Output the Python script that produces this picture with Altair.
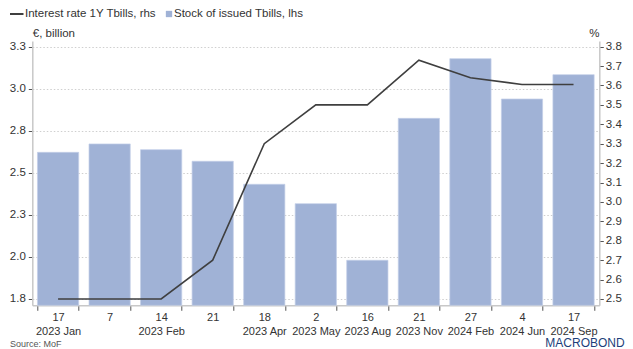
import altair as alt
import pandas as pd

categories = ["17|2023 Jan", "7|", "14|2023 Feb", "21|", "18|2023 Apr", "2|2023 May",
              "16|2023 Aug", "21|2023 Nov", "27|2024 Feb", "4|2024 Jun", "17|2024 Sep"]
stock = [2.622, 2.672, 2.638, 2.569, 2.432, 2.317, 1.980, 2.824, 3.179, 2.939, 3.084]
rate = [2.50, 2.50, 2.50, 2.70, 3.30, 3.50, 3.50, 3.73, 3.64, 3.605, 3.605]

left_ticks = [1.75, 2.0, 2.25, 2.5, 2.75, 3.0, 3.25]
right_ticks = [2.5, 2.6, 2.7, 2.8, 2.9, 3.0, 3.1, 3.2, 3.3, 3.4, 3.5, 3.6, 3.7, 3.8]
left_domain = [1.7125, 3.284]
right_domain = [2.4675, 3.829]

df = pd.DataFrame({"cat": categories, "stock": stock, "rate": rate})

FONT = "Liberation Sans"
BAR = "#a0b2d6"
LINE = "#3f3f3f"
W, H = 567, 264.3

xenc = alt.X("cat:N", sort=categories,
             scale=alt.Scale(paddingInner=0.2, paddingOuter=0.1),
             axis=alt.Axis(title=None, labelAngle=0, tickBand="extent", tickSize=5,
                           tickColor="#555555", domainColor="#c8c8c8", domainWidth=1.5,
                           labelExpr="split(datum.label, '|')", labelFont=FONT,
                           labelFontSize=11, labelColor="#333333", labelPadding=1.5,
                           labelLineHeight=14, grid=False, labelOverlap=False))

bars = alt.Chart(df).mark_bar(color=BAR, stroke="#c3cfe8", strokeWidth=0.7).encode(
    x=xenc,
    y=alt.Y("stock:Q",
            scale=alt.Scale(domain=left_domain, nice=False, zero=False),
            axis=alt.Axis(values=left_ticks, format=".1f", title="€, billion",
                          titleAngle=0, titleX=0, titleY=-5, titleAlign="left",
                          titleBaseline="alphabetic", titleFont=FONT, titleFontSize=11.5,
                          titleFontWeight="normal", titleColor="#333333",
                          labelFont=FONT, labelFontSize=11.5, labelColor="#333333",
                          tickSize=4, tickColor="#555555", domainColor="#c8c8c8",
                          domainWidth=1.5, labelPadding=3,
                          grid=True, gridDash=[1.5, 2], gridColor="#cfcfcf")),
    y2=alt.datum(left_domain[0]),
)

line = alt.Chart(df).mark_line(color=LINE, strokeWidth=1.6).encode(
    x=alt.X("cat:N", sort=categories),
    y=alt.Y("rate:Q",
            scale=alt.Scale(domain=right_domain, nice=False, zero=False),
            axis=alt.Axis(orient="right", values=right_ticks, format=".1f", title="%",
                          titleAngle=0, titleX=-5.5, titleY=-5, titleAlign="center",
                          titleBaseline="alphabetic", titleFont=FONT, titleFontSize=11.5,
                          titleFontWeight="normal", titleColor="#333333",
                          labelFont=FONT, labelFontSize=11.5, labelColor="#333333",
                          tickSize=4, tickColor="#555555", domainColor="#c8c8c8",
                          domainWidth=1.5, labelPadding=2, grid=False))
)

one = alt.Data(values=[{"a": 1}])

def txt(s, x, y, size=11.5, color="#333333", weight="normal", baseline="middle"):
    return alt.Chart(one).mark_text(text=s, font=FONT, fontSize=size, color=color,
                                    fontWeight=weight, align="left",
                                    baseline=baseline).encode(
        x=alt.value(x), y=alt.value(y))

title = txt("T-bills", -22.3, -37, size=19, color="#12358a", weight="bold",
            baseline="alphabetic")
leg_line = alt.Chart(one).mark_rule(color=LINE, strokeWidth=2).encode(
    x=alt.value(-22.3), x2=alt.value(-8.8), y=alt.value(-27))
leg_line_t = txt("Interest rate 1Y Tbills, rhs", -7.3, -27)
leg_sq = alt.Chart(one).mark_square(color=BAR, size=40, opacity=1).encode(
    x=alt.value(136.7), y=alt.value(-27))
leg_sq_t = txt("Stock of issued Tbills, lhs", 141.7, -27)
source = txt("Source: MoF", -22.3, 305.5, size=9, color="#555555", baseline="alphabetic")
logo = txt("MACROBOND", 513, 306, size=12, color="#1d3f7a", baseline="alphabetic")

chart = alt.layer(bars, line, title, leg_line, leg_line_t, leg_sq, leg_sq_t, source, logo
                  ).resolve_scale(y="independent").properties(
    width=W, height=H,
    autosize=alt.AutoSizeParams(type="none"),
    padding={"left": 24.3, "top": 33, "right": 617 - 24.3 - W, "bottom": 43.7},
).configure_view(stroke=None)

chart.save("out.html", embed_options={"renderer": "svg", "actions": False})
